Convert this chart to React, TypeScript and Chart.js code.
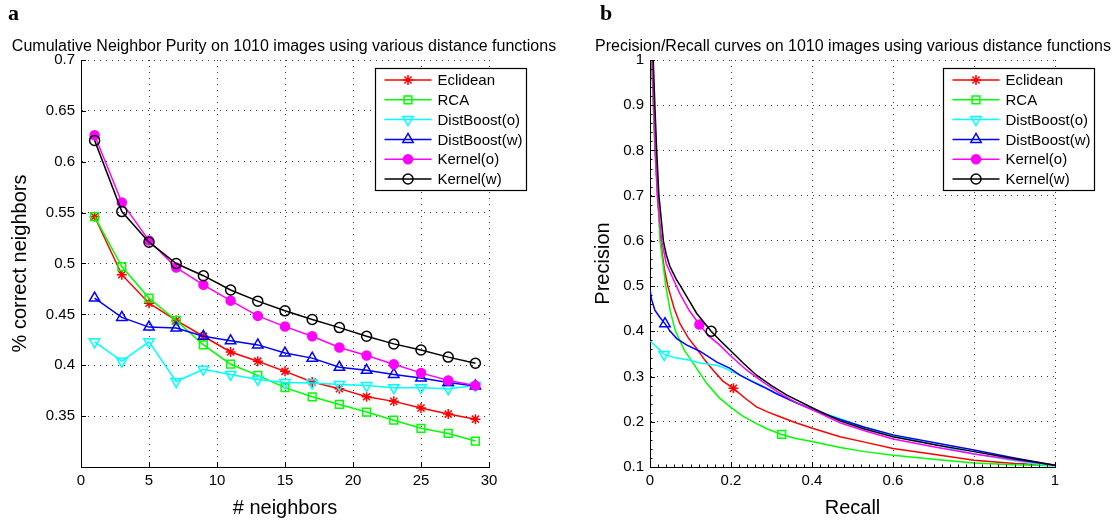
import React, { useEffect, useRef } from 'react';
import { Chart, registerables } from 'chart.js';

Chart.register(...registerables);

const FONT = "'Liberation Sans', Arial, Helvetica, sans-serif";

// ---------- Panel a: cumulative neighbor purity ----------
const neighbors = [1, 3, 5, 7, 9, 11, 13, 15, 17, 19, 21, 23, 25, 27, 29];
const purityEclidean = [0.546, 0.489, 0.461, 0.444, 0.4285, 0.413, 0.404, 0.394, 0.3835, 0.377, 0.369, 0.3645, 0.358, 0.352, 0.347];
const purityRCA = [0.546, 0.497, 0.466, 0.444, 0.42, 0.401, 0.39, 0.378, 0.369, 0.3615, 0.354, 0.346, 0.338, 0.333, 0.3255];
const purityDistBoostO = [0.423, 0.404, 0.423, 0.384, 0.396, 0.391, 0.386, 0.383, 0.3825, 0.381, 0.38, 0.378, 0.378, 0.377, 0.38];
const purityDistBoostW = [0.466, 0.447, 0.4375, 0.4365, 0.4285, 0.424, 0.42, 0.412, 0.407, 0.398, 0.395, 0.391, 0.3875, 0.383, 0.3795];
const purityKernelO = [0.626, 0.56, 0.5225, 0.496, 0.479, 0.4635, 0.4485, 0.438, 0.4285, 0.4175, 0.4095, 0.401, 0.3925, 0.385, 0.38];
const purityKernelW = [0.621, 0.551, 0.521, 0.5, 0.488, 0.474, 0.463, 0.4535, 0.445, 0.437, 0.4285, 0.421, 0.415, 0.408, 0.402];

// ---------- Panel b: precision / recall ----------
const recallEclidean = [0, 0.004, 0.008, 0.012, 0.019, 0.026, 0.035, 0.044, 0.06, 0.074, 0.095, 0.115, 0.135, 0.156, 0.18, 0.206, 0.235, 0.263, 0.29, 0.321, 0.36, 0.403, 0.469, 0.53, 0.6, 0.7, 0.8, 0.9, 1.0];
const precisionEclidean = [1.0, 1.0, 0.92, 0.82, 0.7, 0.6, 0.54, 0.5, 0.45, 0.417, 0.385, 0.362, 0.337, 0.314, 0.29, 0.274, 0.252, 0.233, 0.222, 0.211, 0.198, 0.185, 0.167, 0.155, 0.141, 0.128, 0.115, 0.108, 0.104];
const recallRCA = [0, 0.004, 0.008, 0.012, 0.019, 0.025, 0.032, 0.039, 0.05, 0.063, 0.085, 0.107, 0.14, 0.17, 0.198, 0.23, 0.263, 0.29, 0.325, 0.36, 0.403, 0.469, 0.53, 0.6, 0.7, 0.8, 0.9, 1.0];
const precisionRCA = [1.0, 1.0, 0.9, 0.8, 0.7, 0.6, 0.55, 0.5, 0.445, 0.4, 0.358, 0.329, 0.285, 0.254, 0.233, 0.212, 0.196, 0.184, 0.172, 0.163, 0.156, 0.143, 0.134, 0.126, 0.117, 0.109, 0.105, 0.103];
const recallDistBoostO = [0, 0.008, 0.016, 0.035, 0.06, 0.099, 0.123, 0.165, 0.181, 0.21, 0.239, 0.28, 0.321, 0.36, 0.403, 0.469, 0.53, 0.6, 0.7, 0.8, 0.9, 0.95, 1.0];
const precisionDistBoostO = [0.38, 0.372, 0.366, 0.349, 0.342, 0.336, 0.33, 0.325, 0.32, 0.308, 0.296, 0.278, 0.259, 0.242, 0.227, 0.207, 0.188, 0.17, 0.15, 0.129, 0.114, 0.107, 0.103];
const recallDistBoostW = [0, 0.004, 0.012, 0.025, 0.037, 0.05, 0.066, 0.09, 0.123, 0.165, 0.198, 0.222, 0.25, 0.28, 0.31, 0.346, 0.403, 0.469, 0.53, 0.6, 0.7, 0.8, 0.9, 1.0];
const precisionDistBoostW = [0.492, 0.47, 0.447, 0.43, 0.417, 0.4, 0.384, 0.37, 0.356, 0.332, 0.318, 0.303, 0.29, 0.277, 0.263, 0.248, 0.226, 0.205, 0.188, 0.171, 0.154, 0.1375, 0.12, 0.104];
const recallKernelO = [0, 0.005, 0.009, 0.013, 0.018, 0.023, 0.029, 0.04, 0.055, 0.074, 0.097, 0.122, 0.145, 0.173, 0.2, 0.239, 0.28, 0.321, 0.36, 0.403, 0.469, 0.53, 0.6, 0.7, 0.8, 0.9, 1.0];
const precisionKernelO = [1.0, 1.0, 0.9, 0.8, 0.7, 0.65, 0.6, 0.55, 0.52, 0.483, 0.446, 0.415, 0.39, 0.369, 0.345, 0.314, 0.287, 0.263, 0.243, 0.226, 0.198, 0.18, 0.162, 0.145, 0.129, 0.116, 0.104];
const recallKernelW = [0, 0.008, 0.012, 0.0165, 0.022, 0.033, 0.04, 0.049, 0.065, 0.074, 0.09, 0.115, 0.151, 0.175, 0.198, 0.23, 0.263, 0.3, 0.338, 0.403, 0.469, 0.53, 0.6, 0.7, 0.8, 0.9, 1.0];
const precisionKernelW = [1.0, 1.0, 0.9, 0.8, 0.7, 0.6, 0.57, 0.544, 0.515, 0.502, 0.478, 0.44, 0.4, 0.378, 0.358, 0.33, 0.303, 0.28, 0.259, 0.23, 0.202, 0.184, 0.167, 0.15, 0.134, 0.118, 0.104];
// index of the single marker drawn on each precision/recall curve
const prMarkerIndex = [15, 18, 3, 4, 11, 12];

const seriesNames = ['Eclidean', 'RCA', 'DistBoost(o)', 'DistBoost(w)', 'Kernel(o)', 'Kernel(w)'];

const leftTitle = 'Cumulative Neighbor Purity on 1010 images using various distance functions';
const rightTitle = 'Precision/Recall curves on 1010 images using various distance functions';

// ---------- styles ----------
const seriesColors = ['#ff0000', '#00ff00', '#00ffff', '#0000ff', '#ff00ff', '#000000'];
const markerShapes = [
  { shape: 'star', rot: 0, fill: false, r: 5 },
  { shape: 'rect', rot: 0, fill: false, r: 5.5 },
  { shape: 'triangle', rot: 180, fill: false, r: 6 },
  { shape: 'triangle', rot: 0, fill: false, r: 6 },
  { shape: 'circle', rot: 0, fill: true, r: 4.5 },
  { shape: 'circle', rot: 0, fill: false, r: 5 },
];

function drawMarker(ctx: CanvasRenderingContext2D, m: any, color: string, x: number, y: number) {
  const r = m.r;
  ctx.save();
  ctx.strokeStyle = color;
  ctx.fillStyle = color;
  ctx.lineWidth = 1.5;
  ctx.beginPath();
  if (m.shape === 'circle') {
    ctx.arc(x, y, r, 0, Math.PI * 2);
  } else if (m.shape === 'rect') {
    const s = r * Math.SQRT1_2;
    ctx.rect(x - s, y - s, 2 * s, 2 * s);
  } else if (m.shape === 'triangle') {
    let rad = (m.rot * Math.PI) / 180;
    ctx.moveTo(x + Math.sin(rad) * r, y - Math.cos(rad) * r);
    rad += (2 * Math.PI) / 3;
    ctx.lineTo(x + Math.sin(rad) * r, y - Math.cos(rad) * r);
    rad += (2 * Math.PI) / 3;
    ctx.lineTo(x + Math.sin(rad) * r, y - Math.cos(rad) * r);
    ctx.closePath();
  } else if (m.shape === 'star') {
    ctx.moveTo(x - r, y); ctx.lineTo(x + r, y);
    ctx.moveTo(x, y - r); ctx.lineTo(x, y + r);
    const d = r * Math.SQRT1_2;
    ctx.moveTo(x - d, y - d); ctx.lineTo(x + d, y + d);
    ctx.moveTo(x - d, y + d); ctx.lineTo(x + d, y - d);
  }
  if (m.fill) ctx.fill();
  ctx.stroke();
  ctx.restore();
}

function decorPlugin(minorDivX: number, minorDivY: number, legendOffset: number) {
  return {
    id: 'matlabDecor',
    afterDraw(chart: any) {
      const { ctx, chartArea: a, scales } = chart;
      const xs = scales.x;
      const ys = scales.y;
      ctx.save();
      ctx.strokeStyle = '#000';
      ctx.lineWidth = 1;
      // inward major ticks
      xs.ticks.forEach((t: any) => {
        const px = Math.round(xs.getPixelForValue(t.value)) + 0.5;
        ctx.beginPath(); ctx.moveTo(px, a.bottom); ctx.lineTo(px, a.bottom - 5); ctx.stroke();
      });
      ys.ticks.forEach((t: any) => {
        const py = Math.round(ys.getPixelForValue(t.value)) + 0.5;
        ctx.beginPath(); ctx.moveTo(a.left, py); ctx.lineTo(a.left + 5, py); ctx.stroke();
      });
      // minor ticks
      if (minorDivX > 0) {
        const step = (xs.max - xs.min) / minorDivX;
        for (let i = 1; i < minorDivX; i++) {
          const px = Math.round(xs.getPixelForValue(xs.min + i * step)) + 0.5;
          ctx.beginPath(); ctx.moveTo(px, a.bottom); ctx.lineTo(px, a.bottom - 2.5); ctx.stroke();
        }
      }
      if (minorDivY > 0) {
        const step = (ys.max - ys.min) / minorDivY;
        for (let i = 1; i < minorDivY; i++) {
          const py = Math.round(ys.getPixelForValue(ys.min + i * step)) + 0.5;
          ctx.beginPath(); ctx.moveTo(a.left, py); ctx.lineTo(a.left + 2.5, py); ctx.stroke();
        }
      }
      // legend box (matlab NorthEast style, reaching past the axes)
      const fontSize = 15;
      ctx.font = `${fontSize}px ${FONT}`;
      const rowH = 19.8;
      const sample = 47;
      const padL = 9, gap = 6, padR = 4;
      const textW = Math.max(...seriesNames.map((n) => ctx.measureText(n).width));
      const boxW = Math.round(padL + sample + gap + textW + padR);
      const boxH = 122;
      const left = Math.round(a.right - legendOffset) + 0.5;
      const top = Math.round(a.top + 8) + 0.5;
      ctx.fillStyle = '#fff';
      ctx.fillRect(left, top, boxW, boxH);
      ctx.strokeStyle = '#000';
      ctx.lineWidth = 1.2;
      ctx.strokeRect(left, top, boxW, boxH);
      seriesNames.forEach((name, i) => {
        const cy = top + 11.5 + i * rowH;
        const x0 = left + padL;
        ctx.strokeStyle = seriesColors[i];
        ctx.lineWidth = 1.5;
        ctx.beginPath(); ctx.moveTo(x0, cy); ctx.lineTo(x0 + sample, cy); ctx.stroke();
        drawMarker(ctx, markerShapes[i], seriesColors[i], x0 + sample / 2, cy);
        ctx.fillStyle = '#000';
        ctx.textAlign = 'left';
        ctx.textBaseline = 'middle';
        ctx.fillText(name, x0 + sample + gap, cy + 1);
      });
      ctx.restore();
    },
  };
}

const fmt = (v: any) => String(Math.round(Number(v) * 100) / 100);

function axisCommon(extra: any) {
  return {
    type: 'linear',
    grid: { color: '#333', lineWidth: 1, drawTicks: false },
    border: { display: true, color: '#000', width: 1, dash: [1, 5] },
    ...extra,
  };
}

export default function App() {
  const leftRef = useRef<HTMLCanvasElement>(null);
  const rightRef = useRef<HTMLCanvasElement>(null);

  useEffect(() => {
    Chart.defaults.font.family = FONT;
    Chart.defaults.color = '#000';

    const purity = [purityEclidean, purityRCA, purityDistBoostO, purityDistBoostW, purityKernelO, purityKernelW];
    const leftDatasets = purity.map((vals, i) => ({
      label: seriesNames[i],
      data: neighbors.map((n, j) => ({ x: n, y: vals[j] })),
      showLine: true,
      borderColor: seriesColors[i],
      borderWidth: 1.5,
      pointStyle: markerShapes[i].shape,
      pointRotation: markerShapes[i].rot,
      pointRadius: markerShapes[i].r,
      pointBorderWidth: 1.5,
      pointBorderColor: seriesColors[i],
      pointBackgroundColor: markerShapes[i].fill ? seriesColors[i] : 'rgba(0,0,0,0)',
      fill: false,
      tension: 0,
      order: 5 - i,
    }));

    const recall = [recallEclidean, recallRCA, recallDistBoostO, recallDistBoostW, recallKernelO, recallKernelW];
    const precision = [precisionEclidean, precisionRCA, precisionDistBoostO, precisionDistBoostW, precisionKernelO, precisionKernelW];
    const rightDatasets = recall.map((xs, i) => ({
      label: seriesNames[i],
      data: xs.map((x, j) => ({ x, y: precision[i][j] })),
      showLine: true,
      borderColor: seriesColors[i],
      borderWidth: 1.5,
      pointStyle: markerShapes[i].shape,
      pointRotation: markerShapes[i].rot,
      pointRadius: (c: any) => (c.dataIndex === prMarkerIndex[i] ? markerShapes[i].r : 0),
      pointBorderWidth: 1.5,
      pointBorderColor: seriesColors[i],
      pointBackgroundColor: markerShapes[i].fill ? seriesColors[i] : 'rgba(0,0,0,0)',
      fill: false,
      tension: 0,
      order: 5 - i,
    }));

    const left = new Chart(leftRef.current!, {
      type: 'scatter',
      data: { datasets: leftDatasets as any },
      options: {
        responsive: false,
        animation: false,
        events: [],
        layout: { padding: { left: 0, right: 76, top: 60, bottom: 0 } },
        plugins: { legend: { display: false }, tooltip: { enabled: false }, title: { display: false } },
        scales: {
          x: axisCommon({
            min: 0, max: 30,
            ticks: { stepSize: 5, font: { size: 15 }, padding: 5, color: '#000', callback: fmt },
            title: { display: true, text: '# neighbors', color: '#000', font: { size: 20 }, padding: { top: 0, bottom: 6 } },
            afterFit: (s: any) => { s.height = 59; },
          }),
          y: axisCommon({
            min: 0.3, max: 0.7,
            ticks: { stepSize: 0.05, font: { size: 15 }, padding: 6, color: '#000', callback: (v: any) => (Math.abs(Number(v) - 0.3) < 1e-6 ? '' : fmt(v)) },
            title: { display: true, text: '% correct neighbors', color: '#000', font: { size: 20 }, padding: { top: 8, bottom: 0 } },
            afterFit: (s: any) => { s.width = 81; },
          }),
        } as any,
      },
      plugins: [decorPlugin(0, 0, 114)],
    });

    const right = new Chart(rightRef.current!, {
      type: 'scatter',
      data: { datasets: rightDatasets as any },
      options: {
        responsive: false,
        animation: false,
        events: [],
        layout: { padding: { left: 0, right: 61, top: 60, bottom: 0 } },
        plugins: { legend: { display: false }, tooltip: { enabled: false }, title: { display: false } },
        scales: {
          x: axisCommon({
            min: 0, max: 1,
            ticks: { stepSize: 0.2, font: { size: 15 }, padding: 5, color: '#000', callback: fmt },
            title: { display: true, text: 'Recall', color: '#000', font: { size: 20 }, padding: { top: 0, bottom: 6 } },
            afterFit: (s: any) => { s.height = 59; },
          }),
          y: axisCommon({
            min: 0.1, max: 1,
            ticks: { stepSize: 0.1, font: { size: 15 }, padding: 6, color: '#000', callback: fmt },
            title: { display: true, text: 'Precision', color: '#000', font: { size: 20 }, padding: { top: 1, bottom: 0 } },
            afterFit: (s: any) => { s.width = 60; },
          }),
        } as any,
      },
      plugins: [decorPlugin(50, 45, 112)],
    });

    return () => {
      left.destroy();
      right.destroy();
    };
  }, []);

  const labelStyle: React.CSSProperties = {
    position: 'absolute',
    top: 2,
    fontFamily: "'Liberation Serif', 'Times New Roman', serif",
    fontWeight: 'bold',
    fontSize: 22,
    lineHeight: '22px',
    color: '#000',
  };

  const titleStyle: React.CSSProperties = {
    position: 'absolute',
    top: 36,
    height: 19,
    lineHeight: '19px',
    fontFamily: FONT,
    fontSize: 16,
    color: '#000',
    textAlign: 'center',
    whiteSpace: 'nowrap',
  };

  return (
    <div style={{ position: 'absolute', left: 0, top: 0, width: 1116, height: 526, background: '#fff', overflow: 'hidden' }}>
      <canvas ref={leftRef} width={565} height={526} style={{ position: 'absolute', left: 0, top: 0, width: 565, height: 526 }} />
      <canvas ref={rightRef} width={526} height={526} style={{ position: 'absolute', left: 590, top: 0, width: 526, height: 526 }} />
      <div style={{ ...titleStyle, left: 0, width: 568 }}>{leftTitle}</div>
      <div style={{ ...titleStyle, left: 590, width: 526 }}>{rightTitle}</div>
      <span style={{ ...labelStyle, left: 8 }}>a</span>
      <span style={{ ...labelStyle, left: 600 }}>b</span>
    </div>
  );
}
